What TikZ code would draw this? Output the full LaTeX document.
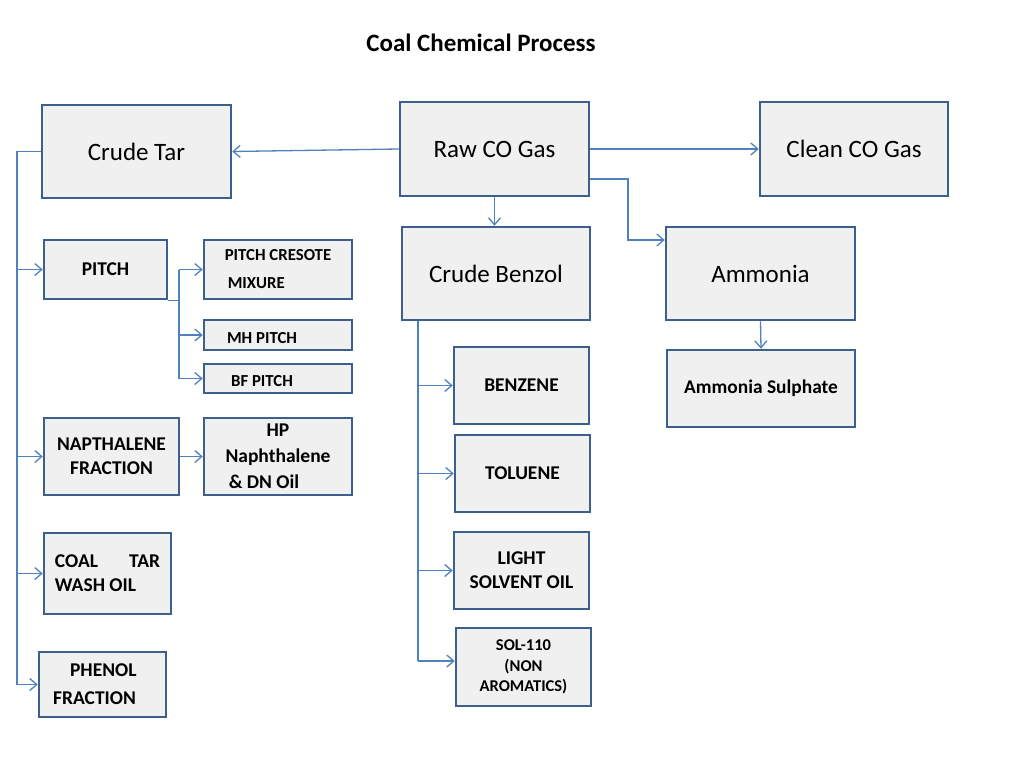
\documentclass[tikz,border=0pt]{standalone}
\usepackage{fontspec}
\setmainfont{Carlito}
\usetikzlibrary{arrows.meta}
\definecolor{bord}{HTML}{3D5F8E}
\definecolor{fillc}{HTML}{F0F0F0}
\definecolor{connc}{HTML}{4F81BD}
\begin{document}
\begin{tikzpicture}[x=1pt,y=-1pt,
  box/.style={draw=bord, fill=fillc, line width=2.5pt, inner sep=0pt},
  big/.style={font=\fontsize{25}{30}\selectfont},
  lab/.style={font=\bfseries\fontsize{19.5}{24}\selectfont, align=center},
  sml/.style={font=\bfseries\fontsize{16.8}{28}\selectfont, align=left},
  conn/.style={draw=connc, line width=1.3pt},
  arr/.style={conn, -{Straight Barb[length=7pt,width=12pt,line width=1.3pt]}}]
\useasboundingbox (0,0) rectangle (1024,768);

\node[font=\bfseries\fontsize{25}{30}\selectfont] (title) at (481,43) {Coal Chemical Process};

% top row
\node[box,big,minimum width=189pt,minimum height=93pt] (ct) at (136.5,151.5) {Crude Tar};
\node[box,big,minimum width=189pt,minimum height=94pt] (raw) at (494.5,149) {Raw CO Gas};
\node[box,big,minimum width=188pt,minimum height=94pt] (clean) at (854,149) {Clean CO Gas};
\node[box,big,minimum width=188pt,minimum height=93pt] (cb) at (496,273.5) {Crude Benzol};
\node[box,big,minimum width=189pt,minimum height=93pt] (amm) at (760.5,273.5) {Ammonia};
\node[box,lab,font=\bfseries\fontsize{19.4}{22}\selectfont,minimum width=188pt,minimum height=77pt] (as) at (761,388.5) {Ammonia Sulphate};

% crude tar branch
\node[box,lab,minimum width=123pt,minimum height=59pt] (pitch) at (105.5,269.5) {PITCH};
\node[box,sml,minimum width=148pt,minimum height=59pt] (pcm) at (278,269.5) {PITCH CRESOTE\\\hspace*{3pt}MIXURE};
\node[box,sml,minimum width=148pt,minimum height=30pt] (mh) at (278,335) {\raisebox{-8.5pt}[0pt][0pt]{MH PITCH}\hspace*{32pt}};
\node[box,sml,minimum width=148pt,minimum height=29pt] (bf) at (278,378.5) {\raisebox{-8pt}[0pt][0pt]{BF PITCH}\hspace*{32pt}};
\node[box,lab,minimum width=135pt,minimum height=77pt] (nap) at (111.5,456.5) {NAPTHALENE\\FRACTION};
\node[box,lab,font=\bfseries\fontsize{19.5}{26}\selectfont,minimum width=148pt,minimum height=77pt] (hp) at (278,456.5) {HP\\Naphthalene\\\& DN Oil\hspace*{28pt}};
\node[box,lab,align=left,minimum width=127pt,minimum height=81pt] (coal) at (107.5,573.5) {COAL\hspace{31pt}TAR\\WASH OIL};
\node[box,lab,align=left,font=\bfseries\fontsize{19.5}{28}\selectfont,minimum width=127pt,minimum height=65pt] (phen) at (102.5,684.5) {\hspace*{17pt}PHENOL\\FRACTION\hspace*{16pt}};

% benzol branch
\node[box,lab,minimum width=135pt,minimum height=77pt] (benz) at (521.5,385.5) {BENZENE};
\node[box,lab,minimum width=135pt,minimum height=77pt] (tol) at (522.5,473.5) {TOLUENE};
\node[box,lab,minimum width=135pt,minimum height=77pt] (light) at (521.5,570.5) {LIGHT\\SOLVENT OIL};
\node[box,lab,font=\bfseries\fontsize{16.5}{20.5}\selectfont,minimum width=135pt,minimum height=78pt] (sol) at (523.5,667) {SOL-110\\(NON\\AROMATICS)};

% connectors from Raw CO Gas
\draw[arr] (raw.west) -- (ct.east);
\draw[arr] (raw.east) -- (clean.west);
\draw[arr] (raw.south) -- (raw.south |- cb.north);
\coordinate (rb1) at (628,179);
\draw[arr] (raw.east |- rb1) -- (rb1) |- (amm.west |- 0,240);
\draw[arr] (amm.south) -- (as.north);

% crude tar tree
\coordinate (tx) at (17,685);
\draw[conn] (ct.west) -- (ct.west -| tx) -- (tx);
\draw[arr] (tx |- pitch.west) -- (pitch.west);
\draw[arr] (tx |- nap.west) -- (nap.west);
\draw[arr] (tx |- coal.west) -- (coal.west);
\draw[arr] (tx |- phen.west) -- (phen.west);

% pitch tree
\coordinate (px) at (179,379);
\draw[conn] (pitch.south east) -- (pitch.south east -| px);
\draw[conn] (px |- pcm.west) -- (px);
\draw[arr] (px |- pcm.west) -- (pcm.west);
\draw[arr] (px |- mh.west) -- (mh.west);
\draw[arr] (px |- bf.west) -- (bf.west);
\draw[arr] (nap.east) -- (hp.west);

% benzol tree
\coordinate (bx) at (418,661);
\draw[conn] (cb.south -| bx) -- (bx);
\draw[arr] (bx |- benz.west) -- (benz.west);
\draw[arr] (bx |- tol.west) -- (tol.west);
\draw[arr] (bx |- light.west) -- (light.west);
\draw[arr] (bx) -- (bx -| sol.west);
\end{tikzpicture}
\end{document}
